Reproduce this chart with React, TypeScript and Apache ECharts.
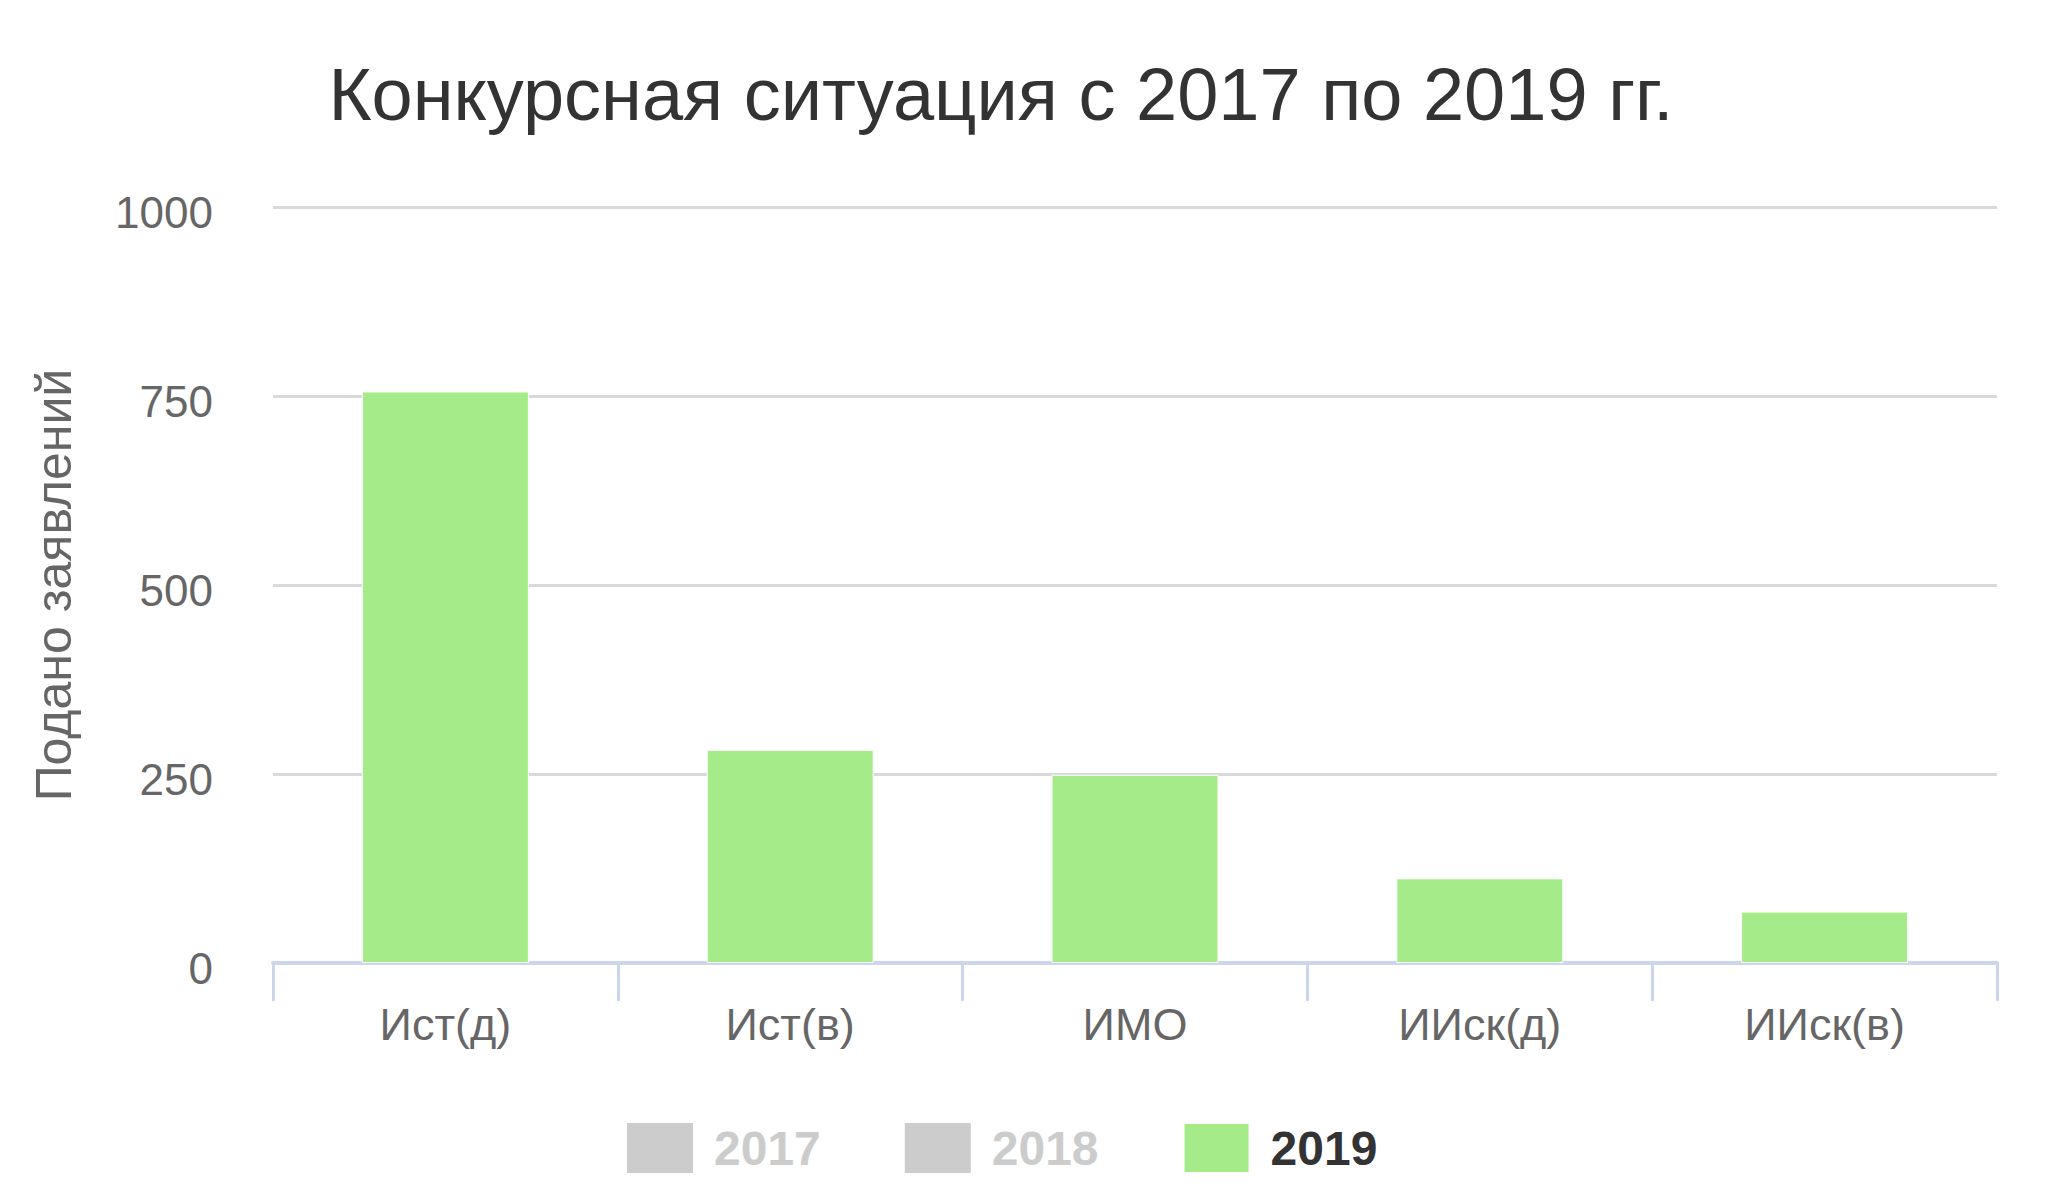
import React, { useEffect, useRef } from "react";
import * as echarts from "echarts";

const categories = ["Ист(д)", "Ист(в)", "ИМО", "ИИск(д)", "ИИск(в)"];
const years = ["2017", "2018", "2019"];
const values2017: number[] = [];
const values2018: number[] = [];
const values2019 = [756, 282, 249, 112, 68];
const yTicks = [0, 250, 500, 750, 1000];

const FONT = "'Liberation Sans', Arial, Helvetica, sans-serif";

export default function App() {
  const ref = useRef<HTMLDivElement>(null);
  useEffect(() => {
    if (!ref.current) return;
    const chart = echarts.init(ref.current, null, { renderer: "svg" });
    chart.setOption({
      animation: false,
      backgroundColor: "#ffffff",
      title: {
        text: "Конкурсная ситуация с 2017 по 2019 гг.",
        left: 996,
        top: 52,
        textAlign: "center",
        textStyle: { fontFamily: FONT, fontSize: 74, fontWeight: "normal", color: "#333333" },
      },
      legend: {
        left: 622,
        top: 1117,
        itemWidth: 66,
        itemHeight: 50,
        itemGap: 84,
        icon: "rect",
        inactiveColor: "#cccccc",
        selected: { "2017": false, "2018": false, "2019": true },
        data: years,
        textStyle: { fontFamily: FONT, fontSize: 48, fontWeight: "bold", color: "#333333", padding: [0, 0, 0, 16] },
      },
      grid: { left: 273, right: 54, top: 207, bottom: 233 },
      xAxis: {
        type: "category",
        data: categories,
        axisLine: { lineStyle: { color: "#ccd6eb", width: 4 } },
        axisTick: { show: true, length: 38, lineStyle: { color: "#ccd6eb", width: 3 } },
        axisLabel: { fontFamily: FONT, fontSize: 45, color: "#666666", margin: 39 },
      },
      yAxis: {
        type: "value",
        min: yTicks[0],
        max: yTicks[yTicks.length - 1],
        interval: 250,
        name: "Подано заявлений",
        nameLocation: "middle",
        nameGap: 194,
        nameTextStyle: { fontFamily: FONT, fontSize: 50, color: "#666666" },
        axisLine: { show: false },
        axisTick: { show: false },
        axisLabel: {
          fontFamily: FONT,
          fontSize: 44,
          color: "#666666",
          margin: 60,
          formatter: (v: number) => "{v|" + String(v) + "}",
          rich: {
            v: { fontFamily: FONT, fontSize: 44, color: "#666666", padding: [10, 0, 0, 0] },
          },
        },
        splitLine: { lineStyle: { color: "#d9d9d9", width: 3 } },
      },
      series: [
        { name: "2017", type: "bar", data: values2017, itemStyle: { color: "#cccccc" } },
        { name: "2018", type: "bar", data: values2018, itemStyle: { color: "#cccccc" } },
        {
          name: "2019",
          type: "bar",
          data: values2019,
          barWidth: 167,
          itemStyle: { color: "#a6eb8a", borderColor: "#ffffff", borderWidth: 1 },
        },
      ],
    });
    return () => chart.dispose();
  }, []);
  return <div ref={ref} style={{ width: 2051, height: 1196, margin: -8 }} />;
}
